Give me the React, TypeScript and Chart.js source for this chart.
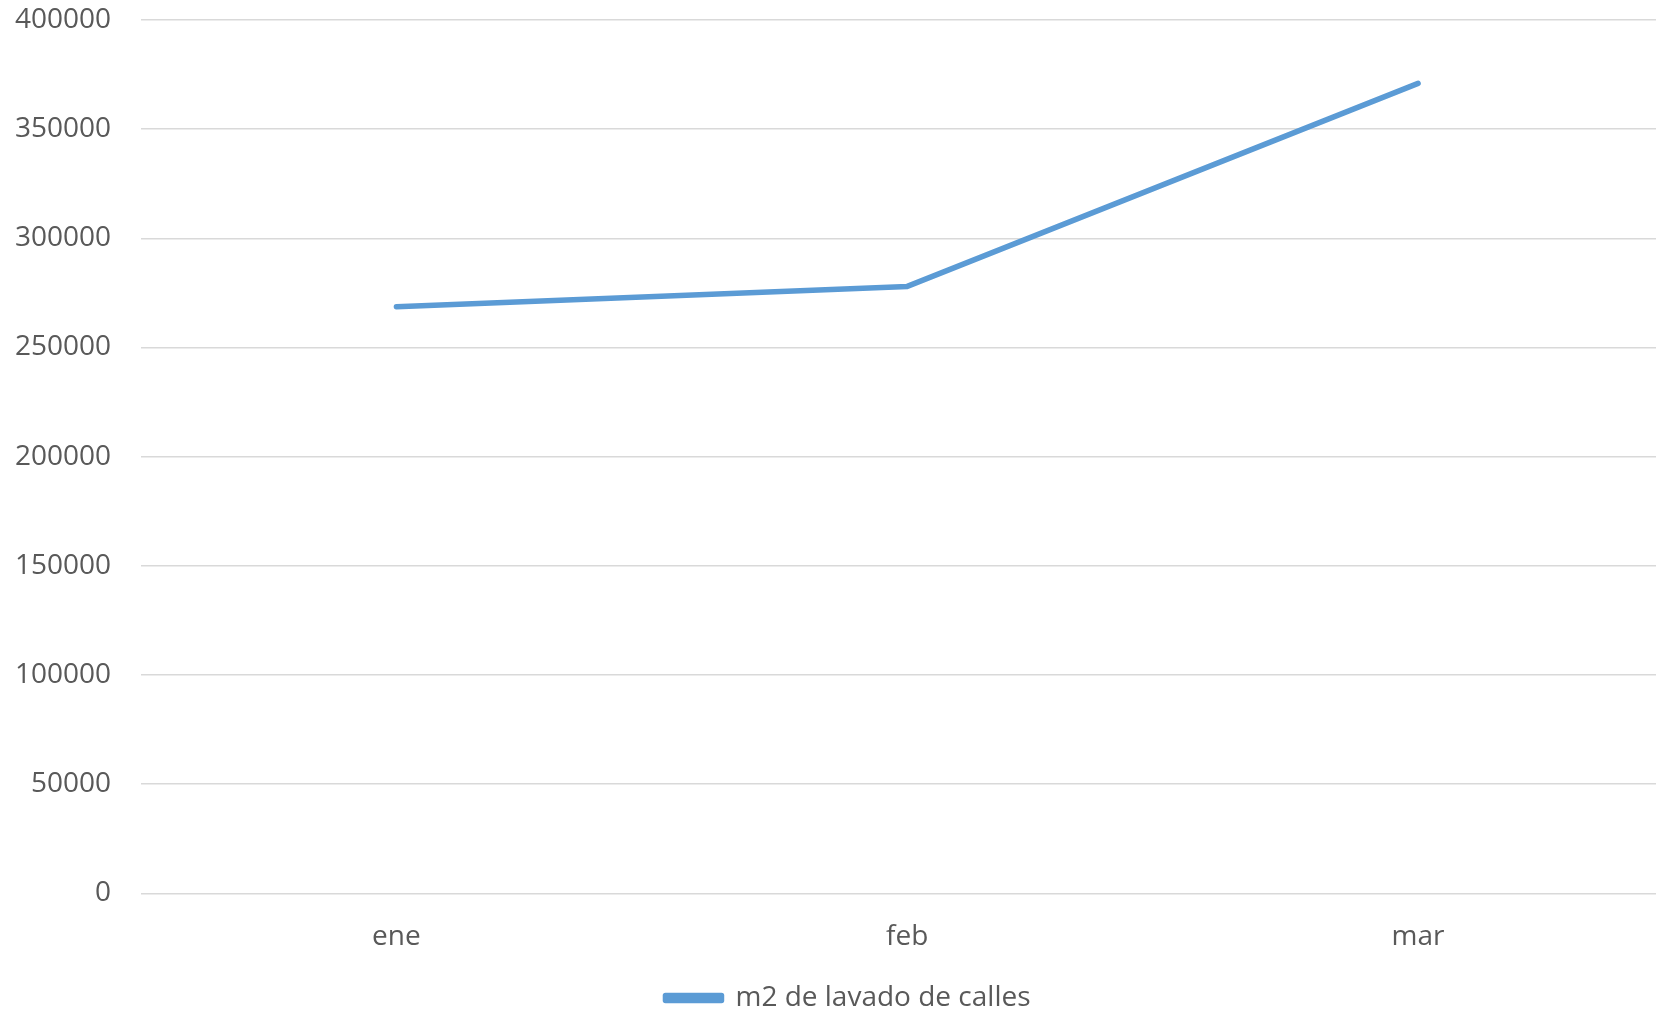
import React, { useEffect, useRef } from "react";
import { Chart, registerables } from "chart.js";

Chart.register(...registerables);

const categories = ["ene", "feb", "mar"];
const seriesLabel = "m2 de lavado de calles";
const seriesValues = [268700, 278000, 371000];
const yMin = 0;
const yMax = 400000;
const yStep = 50000;

const FONT = "'Open Sans', sans-serif";
const TEXT = "#595959";
const LINE = "#5B9BD5";

export default function App() {
  const ref = useRef<HTMLCanvasElement | null>(null);
  useEffect(() => {
    document.body.style.margin = "0";
    document.body.style.overflow = "hidden";
    const chart = new Chart(ref.current!, {
      type: "line",
      data: {
        labels: categories,
        datasets: [
          {
            label: seriesLabel,
            data: seriesValues,
            borderColor: LINE,
            backgroundColor: LINE,
            borderWidth: 5.5,
            borderCapStyle: "round",
            borderJoinStyle: "round",
            pointRadius: 0,
            tension: 0,
          },
        ],
      },
      options: {
        animation: false,
        responsive: true,
        maintainAspectRatio: false,
        layout: { padding: { top: 20, right: 0, left: 0, bottom: 0 } },
        scales: {
          x: {
            offset: true,
            grid: { display: false, drawTicks: false },
            border: { display: false },
            ticks: { color: TEXT, font: { family: FONT, size: 28 }, padding: 27 },
          },
          y: {
            min: yMin,
            max: yMax,
            ticks: {
              stepSize: yStep,
              color: TEXT,
              font: { family: FONT, size: 28 },
              padding: 30,
              callback: (v: any) => String(v),
            },
            grid: { color: "#D9D9D9", lineWidth: 1.5, drawTicks: false },
            border: { display: false },
            afterFit: (s: any) => {
              s.width = 141;
              s.paddingTop = 0;
              s.paddingBottom = 0;
            },
          },
          yRight: {
            position: "right",
            display: true,
            grid: { display: false, drawTicks: false },
            border: { display: false },
            ticks: { display: false },
            afterFit: (s: any) => {
              s.width = 22.5;
              s.paddingTop = 0;
              s.paddingBottom = 0;
            },
          },
        },
        plugins: {
          legend: {
            position: "bottom",
            labels: {
              color: TEXT,
              font: { family: FONT, size: 28 },
              boxWidth: 56,
              boxHeight: 5,
              padding: 3,
            },
          },
          tooltip: { enabled: false },
        },
      },
    });
    return () => chart.destroy();
  }, []);
  return (
    <div style={{ position: "fixed", left: 0, top: 0, width: 1656, height: 1011, overflow: "hidden", background: "#fff" }}>
      <div style={{ position: "absolute", left: 0, top: 0, width: 1696, height: 1022 }}>
        <canvas ref={ref} />
      </div>
    </div>
  );
}
